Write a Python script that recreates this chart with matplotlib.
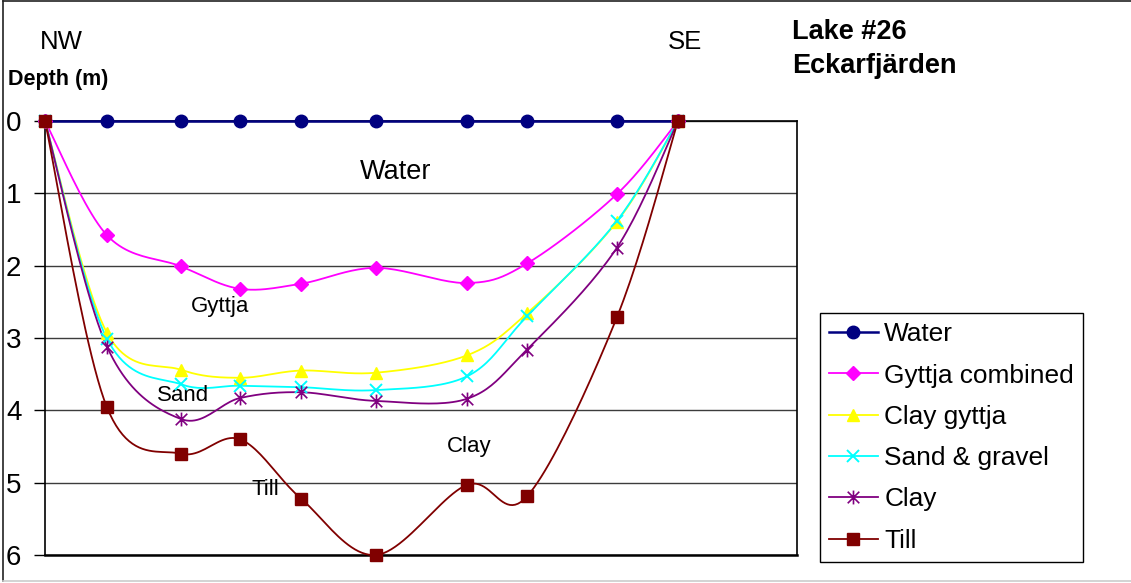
import numpy as np
import matplotlib
matplotlib.use("Agg")
import matplotlib.pyplot as plt
from matplotlib.path import Path
from matplotlib.lines import Line2D

plt.rcParams['font.family'] = ['Liberation Sans', 'DejaVu Sans']

# Distance along the NW-SE profile (arbitrary units) and layer bottoms (m)
distance = [0, 62, 136, 195, 256, 331, 422, 482, 572, 633]
water = [0, 0, 0, 0, 0, 0, 0, 0, 0, 0]
gyttja_combined = [0, 1.58, 2.01, 2.32, 2.25, 2.03, 2.24, 1.97, 1.01, 0]
clay_gyttja = [0, 2.93, 3.44, 3.55, 3.45, 3.48, 3.24, 2.66, 1.39, 0]
sand_gravel = [0, 3.01, 3.64, 3.66, 3.68, 3.72, 3.53, 2.70, 1.38, 0]
clay = [0, 3.12, 4.12, 3.83, 3.75, 3.87, 3.84, 3.16, 1.75, 0]
till = [0, 3.96, 4.60, 4.40, 5.22, 6.00, 5.03, 5.19, 2.71, 0]

series_names = ["Water", "Gyttja combined", "Clay gyttja", "Sand & gravel", "Clay", "Till"]
depth_ticks = [0, 1, 2, 3, 4, 5, 6]


def smooth(x, y, n=24):
    """Bezier smoothing through every point (tangent = neighbour chord / 6)."""
    p = np.column_stack([x, y]).astype(float)
    ext = np.vstack([p[0], p, p[-1]])
    out = [p[0]]
    t = np.linspace(0, 1, n)[1:, None]
    for i in range(len(p) - 1):
        p0 = ext[i + 1]
        p3 = ext[i + 2]
        c1 = p0 + (ext[i + 2] - ext[i]) / 6.0
        c2 = p3 - (ext[i + 3] - ext[i + 1]) / 6.0
        seg = ((1 - t) ** 3) * p0 + 3 * ((1 - t) ** 2) * t * c1 + 3 * (1 - t) * t ** 2 * c2 + t ** 3 * p3
        out.extend(seg)
    out = np.array(out)
    return out[:, 0], out[:, 1]


asterisk = Path([(-1, -1), (1, 1), (-1, 1), (1, -1), (0, -1.2), (0, 1.2)],
                [Path.MOVETO, Path.LINETO, Path.MOVETO, Path.LINETO, Path.MOVETO, Path.LINETO])

styles = [
    dict(color="#000080", marker="o", ms=9, lw=1.8),
    dict(color="#FF00FF", marker="D", ms=7, lw=1.3),
    dict(color="#FFFF00", marker="^", ms=9, lw=1.3),
    dict(color="#00FFFF", marker="x", ms=9, lw=1.3, mew=1.4),
    dict(color="#800080", marker=asterisk, ms=10, lw=1.3, mew=1.2),
    dict(color="#800000", marker="s", ms=9, lw=1.3),
]
data = [water, gyttja_combined, clay_gyttja, sand_gravel, clay, till]

fig = plt.figure(figsize=(11.31, 5.83), dpi=100)
W, H = 1131, 583
ax = fig.add_axes([45 / W, 1 - 555 / H, 752 / W, 434 / H])

handles = []
for name, vals, st in zip(series_names, data, styles):
    sx, sy = smooth(distance, vals)
    ax.plot(sx, sy, color=st["color"], lw=st["lw"], zorder=3, solid_joinstyle="round", clip_on=False)
    ax.plot(distance, vals, linestyle="none", marker=st["marker"], ms=st["ms"],
            color=st["color"], mec=st["color"], mew=st.get("mew", 1), zorder=4, clip_on=False)
    h, = ax.plot([], [], color=st["color"], lw=st["lw"], marker=st["marker"],
                 ms=st["ms"], mec=st["color"], mew=st.get("mew", 1), label=name)
    handles.append(h)

ax.set_xlim(0, 752)
ax.set_ylim(6, 0)
ax.set_xticks([])
ax.set_yticks(depth_ticks)
ax.set_yticklabels([str(v) for v in depth_ticks], fontsize=20)
ax.tick_params(axis="y", direction="out", length=8, width=1, pad=9, colors="black")
ax.yaxis.grid(True, color="#3c3c3c", lw=1)
ax.set_axisbelow(True)
for s in ax.spines.values():
    s.set_color("black")
    s.set_linewidth(1.2)
ax.spines["bottom"].set_linewidth(1.8)

# layer names inside the section
ax.text(351, 0.70, "Water", fontsize=19.5, ha="center", va="center")
ax.text(175, 2.57, "Gyttja", fontsize=16, ha="center", va="center")
ax.text(138, 3.79, "Sand", fontsize=16, ha="center", va="center")
ax.text(220, 5.10, "Till", fontsize=16, ha="center", va="center")
ax.text(424, 4.50, "Clay", fontsize=16, ha="center", va="center")

# annotations around the plot
fig.text(40 / W, 1 - 42 / H, "NW", fontsize=18.5, ha="left", va="center")
fig.text(668 / W, 1 - 42 / H, "SE", fontsize=18.5, ha="left", va="center")
fig.text(8 / W, 1 - 80 / H, "Depth (m)", fontsize=15.5, fontweight="bold", ha="left", va="center")
fig.text(792 / W, 1 - 32 / H, "Lake #26", fontsize=19.5, fontweight="bold", ha="left", va="center")
fig.text(792 / W, 1 - 66 / H, "Eckarfjärden", fontsize=19.5, fontweight="bold", ha="left", va="center")

leg = fig.legend(handles=handles, loc="upper left", bbox_to_anchor=(820 / W, 1 - 313 / H),
                 bbox_transform=fig.transFigure, fontsize=18.9, frameon=True, fancybox=False,
                 edgecolor="black", borderaxespad=0, borderpad=0.35, labelspacing=0.66,
                 handlelength=1.85, handletextpad=0.25, framealpha=1)
leg.get_frame().set_linewidth(1.0)

# outer chart border (open to the right edge)
fig.lines.append(Line2D([3 / W, 3 / W], [1 - 581 / H, 1 - 1 / H], transform=fig.transFigure,
                        color="#222222", lw=1.2))
fig.lines.append(Line2D([3 / W, 1.0], [1 - 1 / H, 1 - 1 / H], transform=fig.transFigure,
                        color="#222222", lw=1.2))
fig.lines.append(Line2D([3 / W, 1.0], [1 - 581 / H, 1 - 581 / H], transform=fig.transFigure,
                        color="#cccccc", lw=1.2))

fig.savefig("out.png", dpi=100)
